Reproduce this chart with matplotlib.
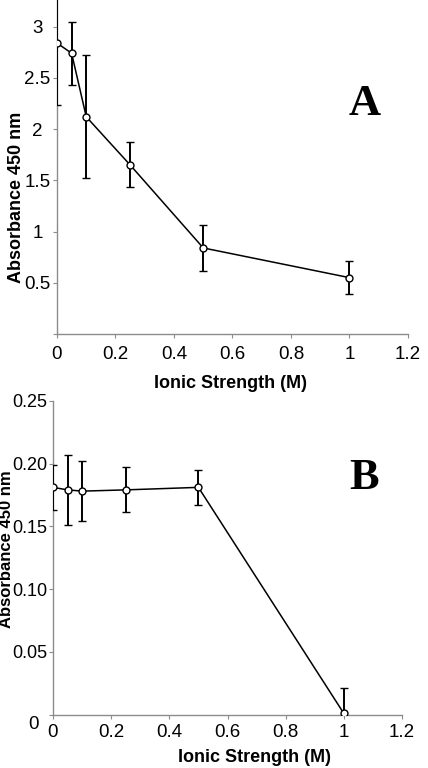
import matplotlib
matplotlib.use("Agg")
import matplotlib.pyplot as plt

plt.rcParams['font.family'] = ['Liberation Sans', 'DejaVu Sans']

# ===== DATA =====
ionic = [0, 0.05, 0.1, 0.25, 0.5, 1.0]

abs_a = [2.84, 2.74, 2.12, 1.65, 0.84, 0.55]
err_a = [0.60, 0.31, 0.60, 0.22, 0.225, 0.16]

abs_b = [0.181, 0.179, 0.178, 0.179, 0.181, 0.001]
err_b = [0.018, 0.028, 0.024, 0.018, 0.014, 0.020]

x_ticks = [0, 0.2, 0.4, 0.6, 0.8, 1.0, 1.2]
x_labels = ['0', '0.2', '0.4', '0.6', '0.8', '1', '1.2']
ya_ticks = [0, 0.5, 1.0, 1.5, 2.0, 2.5, 3.0]
ya_labels = ['', '0.5', '1', '1.5', '2', '2.5', '3']
yb_ticks = [0, 0.05, 0.10, 0.15, 0.20, 0.25]
yb_labels = ['', '0.05', '0.10', '0.15', '0.20', '0.25']

AX_GRAY = "#8c8c8c"
TICK_FS = 13.5
LABEL_FS = 13

fig = plt.figure(figsize=(4.28, 7.68), dpi=100)
ax_a = fig.add_axes([57/428, 1-334/768, 351/428, 334/768])
ax_b = fig.add_axes([53/428, 1-714.7/768, 349/428, 314/768])


def style(ax):
    for s in ["top", "right"]:
        ax.spines[s].set_visible(False)
    for s in ["left", "bottom"]:
        ax.spines[s].set_color(AX_GRAY)
        ax.spines[s].set_linewidth(1.0)
    ax.tick_params(colors="black", labelsize=TICK_FS, length=3, width=0.8)
    ax.tick_params(axis="both", color=AX_GRAY)
    ax.set_xlim(0, 1.2)
    ax.set_xticks(x_ticks)
    ax.set_xticklabels(x_labels)


def draw(ax, y, yerr):
    ax.errorbar(ionic, y, yerr=yerr, color="black", lw=1.1,
                elinewidth=1.4, capsize=3, capthick=1.2,
                marker="o", ms=5, mfc="white", mec="black", mew=1.0,
                zorder=3, clip_on=True)


# ===== PANEL A =====
style(ax_a)
draw(ax_a, abs_a, err_a)
ax_a.set_ylim(0, 3.26)
ax_a.set_yticks(ya_ticks)
ax_a.set_yticklabels(ya_labels)
for lab in ax_a.get_yticklabels():
    lab.set_horizontalalignment("center")
ax_a.tick_params(axis="y", pad=11)
ax_a.tick_params(axis="x", pad=6)

# ===== PANEL B =====
style(ax_b)
draw(ax_b, abs_b, err_b)
ax_b.set_ylim(0, 0.25)
ax_b.set_yticks(yb_ticks)
ax_b.set_yticklabels(yb_labels)
ax_b.tick_params(axis="y", pad=1, labelsize=13)
ax_b.tick_params(axis="x", pad=4)
ax_b.annotate("0", xy=(0, 0), xycoords="data", xytext=(-14, -7),
              textcoords="offset points", ha="center", va="center",
              fontsize=TICK_FS)

# ===== LABELS =====
fig.text(17/428, 1-197/768, "Absorbance 450 nm", rotation=90, ha="center",
         va="center", fontsize=LABEL_FS, fontweight="bold")
fig.text(7/428, 1-549/768, "Absorbance 450 nm", rotation=90, ha="center",
         va="center", fontsize=12, fontweight="bold")
fig.text(230/428, 1-383/768, "Ionic Strength (M)", ha="center", va="center",
         fontsize=LABEL_FS, fontweight="bold")
fig.text(254/428, 1-758/768, "Ionic Strength (M)", ha="center", va="center",
         fontsize=LABEL_FS, fontweight="bold")

fig.text(365/428, 1-115/768, "A", ha="center", va="baseline",
         fontsize=32, fontweight="bold", family="Liberation Serif")
fig.text(364/428, 1-489/768, "B", ha="center", va="baseline",
         fontsize=32, fontweight="bold", family="Liberation Serif")

fig.savefig("out.png", dpi=100)
